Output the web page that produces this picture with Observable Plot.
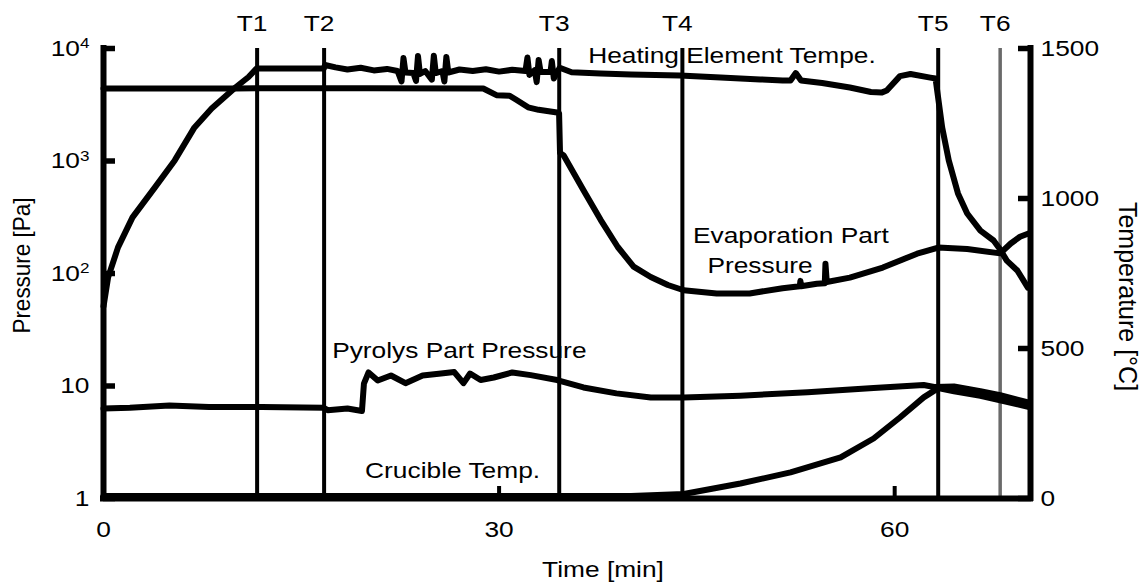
<!DOCTYPE html>
<html><head><meta charset="utf-8">
<script src="https://cdn.jsdelivr.net/npm/d3@7"></script>
<script src="https://cdn.jsdelivr.net/npm/@observablehq/plot@0.6"></script>
<style>
body{margin:0;background:#fff;}
#chart svg{display:block;}
</style></head><body><div id="chart"></div>
<script>
// ---- data (time in min; pressure in Pa; temperature in °C) ----
const xMax = 70.3;
const heatingTemp = [[0,640],[0.35,737],[1.1,837],[2.2,937],[3.9,1037],[5.4,1127],[6.9,1237],[8.2,1300],[10.0,1370],[11.0,1405],[11.6,1433],[16.7,1433],[16.8,1445],[17.6,1437],[18.5,1430],[19.5,1436],[20.5,1427],[21.5,1432],[22.3,1425],[22.6,1390],[22.75,1468],[22.9,1420],[23.5,1418],[23.7,1392],[23.85,1475],[24.0,1415],[24.4,1425],[24.9,1396],[25.05,1476],[25.2,1418],[25.7,1425],[25.85,1390],[26.0,1472],[26.15,1420],[27.0,1430],[28.0,1425],[29.0,1431],[30.0,1423],[31.0,1429],[32.0,1425],[32.15,1470],[32.3,1412],[32.7,1428],[32.85,1388],[33.0,1462],[33.15,1422],[33.9,1422],[34.0,1458],[34.15,1400],[34.6,1436],[35.5,1421],[37.7,1417],[40,1413],[43.7,1410],[46.8,1403],[49.8,1397],[51.5,1393],[52.1,1393],[52.5,1418],[52.9,1393],[54.5,1385],[56.6,1370],[58.2,1355],[59.0,1353],[59.4,1360],[60.4,1408],[61.2,1415],[62.7,1403],[63.1,1400],[63.6,1237],[64.1,1127],[64.8,1017],[65.5,950],[66.5,893],[67.5,860],[68.0,830],[68.5,793],[69.3,760],[70.1,703]];
const evaporationPressure = [[0,4410],[10,4420],[20,4430],[28.8,4410],[29.8,3850],[30.8,3800],[31.3,3500],[32.2,3000],[33.0,2850],[34.4,2700],[34.55,2650],[34.62,1180],[34.9,1120],[36.4,550],[37.7,300],[39.0,172],[40.2,115],[41.5,93],[42.8,79],[44.0,71],[46.5,66.5],[49.0,66.5],[51.5,74],[52.8,77],[52.85,86],[52.9,77],[54.1,81],[54.7,82],[54.75,122],[54.85,84],[56.6,92],[59.1,113],[61.7,150],[63.3,170],[65.5,165],[68.0,151],[68.8,185],[69.5,212],[70.2,228]];
const pyrolysisPressure = [[0,6.3],[2,6.4],[5,6.7],[8,6.5],[12,6.5],[16.7,6.4],[17,6.1],[18.5,6.3],[19.6,6.0],[19.75,10.5],[20.1,13.2],[20.8,11.2],[21.8,12.4],[22.9,10.6],[24.2,12.4],[25.6,12.9],[26.6,13.3],[27.3,10.6],[27.8,12.9],[28.6,11.3],[29.6,11.9],[31.0,13.2],[32.4,12.5],[34.4,11.3],[36.4,9.7],[38.9,8.6],[41.5,7.9],[44.0,7.9],[48.3,8.2],[53.4,8.8],[58.4,9.6],[62.2,10.2],[63.0,9.8],[64.5,9.9],[66.5,9.0],[68.0,8.3],[70.2,7.1]];
const crucibleTemp = [[0,8],[10,8],[20,8],[30,8],[40,8],[44,15],[48.3,50],[52.1,87],[55.9,137],[58.4,200],[60.4,270],[62.2,337],[63.3,368],[64.5,357],[66.5,342],[68.0,327],[70.2,305]];
const eventNames = ["T1","T2","T3","T4","T5","T6"];
const eventTimes = [11.65,16.73,34.56,43.9,63.3,68.0];
const pressureTicks = [1,10,100,1000,10000];
const tempTicks = [0,500,1000,1500];
const timeTicks = [0,30,60];
const annotations = [
  {text:"Heating Element Tempe.", t:36.76, v:1477, axis:"T"},
  {text:"Evaporation Part", t:44.7, v:218, axis:"P"},
  {text:"Pressure", t:45.8, v:118, axis:"P"},
  {text:"Pyrolys Part Pressure", t:17.34, v:20.7, axis:"P"},
  {text:"Crucible Temp.", t:19.84, v:93, axis:"T"}
];

// temperature (0–1500 °C) shares the log pressure axis (1–1e4 Pa)
const T2P = T => Math.pow(10, T / 375);

const rows = [
  ...heatingTemp.map(([t,v]) => ({s:"heat", t, y:T2P(v)})),
  ...evaporationPressure.map(([t,v]) => ({s:"evap", t, y:v})),
  ...pyrolysisPressure.map(([t,v]) => ({s:"pyro", t, y:v})),
  ...crucibleTemp.map(([t,v]) => ({s:"cruc", t, y:T2P(v)}))
];
const events = eventNames.map((name,i) => ({name, t:eventTimes[i], gray: name === "T6"}));
const notes = annotations.map(a => ({...a, y: a.axis === "T" ? T2P(a.v) : a.v}));
const tempLabels = tempTicks.map(T => ({label: String(T), y: T2P(T)}));
const fmtP = d => d === 1 ? "1" : d === 10 ? "10" : "10^" + Math.round(Math.log10(d));
const FS = 22.5;

const chart = Plot.plot({
  width: 1148, height: 586,
  marginLeft: 103, marginRight: 118, marginTop: 48, marginBottom: 88,
  style: {fontSize: FS + "px", fontFamily: "'Liberation Sans', Arial, sans-serif", color: "black", background: "white"},
  x: {domain: [0, xMax], axis: null},
  y: {type: "log", domain: [1, 10000], axis: null},
  marks: [
    Plot.ruleX(events.filter(d => !d.gray), {x: "t", stroke: "black", strokeWidth: 4}),
    Plot.ruleX(events.filter(d => d.gray), {x: "t", stroke: "#6a6a6a", strokeWidth: 3.5}),
    Plot.ruleX([0, xMax], {stroke: "black", strokeWidth: 6, strokeLinecap: "square"}),
    Plot.ruleY([1], {stroke: "black", strokeWidth: 6, strokeLinecap: "square"}),
    Plot.axisY({anchor: "left", ticks: pressureTicks, tickSize: 12, dx: 12, tickFormat: () => "", label: null, strokeWidth: 5.5}),
    Plot.axisY({anchor: "left", ticks: pressureTicks, tickSize: 0, tickPadding: 14, tickFormat: fmtP, label: null}),
    Plot.axisY({anchor: "right", ticks: tempTicks.map(T2P), tickSize: 13, dx: -13, tickFormat: () => "", label: null, strokeWidth: 5.5}),
    Plot.text(tempLabels, {y: "y", text: "label", frameAnchor: "right", textAnchor: "start", lineAnchor: "middle", dx: 10}),
    Plot.axisX({ticks: timeTicks, tickSize: 12, dy: -12, tickFormat: () => "", label: null, strokeWidth: 4}),
    Plot.axisX({ticks: timeTicks, tickSize: 0, tickPadding: 23, label: null}),
    Plot.line(rows, {x: "t", y: "y", z: "s", stroke: "black", strokeWidth: 6, strokeLinejoin: "round", curve: "linear"}),
    Plot.text(events, {x: "t", text: "name", frameAnchor: "top", lineAnchor: "middle", dy: -25, dx: -5}),
    Plot.text(notes, {x: "t", y: "y", text: "text", textAnchor: "start", lineAnchor: "middle"}),
    Plot.text(["Time [min]"], {frameAnchor: "bottom", textAnchor: "middle", lineAnchor: "middle", dx: 36, dy: 71}),
    Plot.text(["Pressure [Pa]"], {frameAnchor: "left", textAnchor: "middle", lineAnchor: "middle", rotate: -90, dx: -81, dy: -8}),
    Plot.text(["Temperature [°C]"], {frameAnchor: "right", textAnchor: "middle", lineAnchor: "middle", rotate: 90, dx: 97, dy: 23, fontSize: 25})
  ]
});

// superscript exponents for the log axis labels
chart.querySelectorAll("text").forEach(el => {
  const m = /^10\^(\d)$/.exec(el.textContent);
  if (!m) return;
  el.textContent = "";
  const a = document.createElementNS("http://www.w3.org/2000/svg", "tspan");
  a.textContent = "10";
  const b = document.createElementNS("http://www.w3.org/2000/svg", "tspan");
  b.textContent = m[1];
  b.setAttribute("dy", "-0.5em");
  b.setAttribute("font-size", "0.65em");
  el.appendChild(a); el.appendChild(b);
});
// the reference typography is horizontally widened
const SX = 1.17;
chart.querySelectorAll("text").forEach(el => {
  let tr = el.getAttribute("transform") || "";
  const rot = /rotate/.test(tr);
  let tx = 0, ty = 0;
  const xa = el.getAttribute("x"), ya = el.getAttribute("y");
  if (xa != null && /^-?[\d.]+$/.test(xa)) { tx = +xa; el.removeAttribute("x"); }
  if (ya != null && /^-?[\d.]+$/.test(ya)) { ty = +ya; el.removeAttribute("y"); }
  el.setAttribute("transform", `${tr} translate(${tx},${ty}) scale(${rot ? `1,${rot ? 1.06 : SX}` : `${SX},1`})`);
});
document.getElementById("chart").appendChild(chart);
</script></body></html>
